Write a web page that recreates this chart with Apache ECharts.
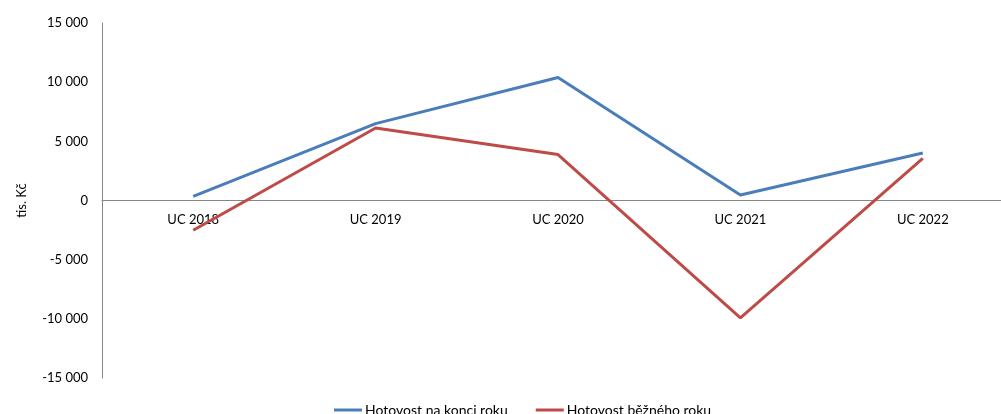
<!DOCTYPE html>
<html>
<head>
<meta charset="utf-8">
<script src="https://cdn.jsdelivr.net/npm/echarts@6/dist/echarts.min.js"></script>
<style>
  html, body { margin: 0; padding: 0; background: #fff; }
  #chart { width: 1001px; height: 414px; }
</style>
</head>
<body>
<div id="chart"></div>
<script>
// Cash flow overview, thousands of CZK
const categories = ['UC 2018', 'UC 2019', 'UC 2020', 'UC 2021', 'UC 2022'];
const cashEndOfYear = [350, 6500, 10400, 470, 4020];
const cashCurrentYear = [-2510, 6130, 3880, -9920, 3570];
const seriesNames = ['Hotovost na konci roku', 'Hotovost běžného roku'];
const axisTitle = 'tis. Kč';

const FONT = 'Lato, "Open Sans", sans-serif';
const PLOT_TOP = 23, PLOT_HEIGHT = 355;

function fmtThousands(v) {
  const s = Math.abs(v).toString().replace(/\B(?=(\d{3})+(?!\d))/g, ' ');
  return (v < 0 ? '-' : '') + s;
}

const chart = echarts.init(document.getElementById('chart'), null, { renderer: 'canvas' });
chart.setOption({
  animation: false,
  textStyle: { fontFamily: FONT },
  grid: {
    left: 102, width: 912, top: PLOT_TOP, height: PLOT_HEIGHT,
    containLabel: false,
    outerBoundsMode: 'none'
  },
  legend: {
    data: seriesNames,
    top: 398,
    left: 329,
    icon: 'rect',
    itemWidth: 28,
    itemHeight: 3,
    itemGap: 28,
    textStyle: { fontFamily: FONT, fontSize: 14, color: '#000', padding: [0, 0, 0, -2] }
  },
  xAxis: {
    type: 'category',
    data: categories,
    boundaryGap: true,
    position: 'bottom',
    // category axis sits on the zero line (middle of the symmetric value range)
    offset: -PLOT_HEIGHT / 2,
    axisLine: { onZero: false, lineStyle: { color: '#868686', width: 1 } },
    axisTick: { show: false },
    axisLabel: { color: '#000', fontSize: 13, fontFamily: FONT, margin: 13 },
    splitLine: { show: false }
  },
  yAxis: {
    type: 'value',
    min: -15000,
    max: 15000,
    interval: 5000,
    name: axisTitle,
    nameLocation: 'middle',
    nameRotate: 90,
    nameGap: 74,
    nameTextStyle: { color: '#000', fontSize: 13, fontFamily: FONT },
    axisLine: { show: true, lineStyle: { color: '#868686', width: 1 } },
    axisTick: { show: false },
    splitLine: { show: false },
    axisLabel: { color: '#000', fontSize: 13, fontFamily: FONT, margin: 14, formatter: fmtThousands }
  },
  series: [
    {
      name: seriesNames[0],
      type: 'line',
      data: cashEndOfYear,
      symbol: 'none',
      lineStyle: { color: '#4A7EBB', width: 3 },
      itemStyle: { color: '#4A7EBB' }
    },
    {
      name: seriesNames[1],
      type: 'line',
      data: cashCurrentYear,
      symbol: 'none',
      lineStyle: { color: '#BE4B48', width: 3 },
      itemStyle: { color: '#BE4B48' }
    }
  ]
});
</script>
</body>
</html>
